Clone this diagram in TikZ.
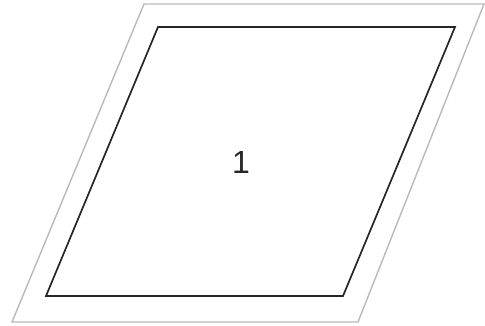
\documentclass[tikz,border=0pt]{standalone}
\usepackage{fontspec}
\setmainfont{Liberation Sans}
\usetikzlibrary{positioning}

\begin{document}
\begin{tikzpicture}[x=1pt,y=-1pt]
  \useasboundingbox (0,0) rectangle (485,326);
  % Outer frame
  \draw[line width=1.4pt, gray!55] (144,4) -- (484,4) -- (358,322) -- (12,322) -- cycle;
  % Inner frame
  \draw[line width=1.7pt, black!85] (158,27) -- (455,27) -- (343,296) -- (46,296) -- cycle;
  % Label
  \node[font=\fontsize{32}{34}\selectfont, text=black!85] (label) at (241,162) {1};
\end{tikzpicture}
\end{document}
